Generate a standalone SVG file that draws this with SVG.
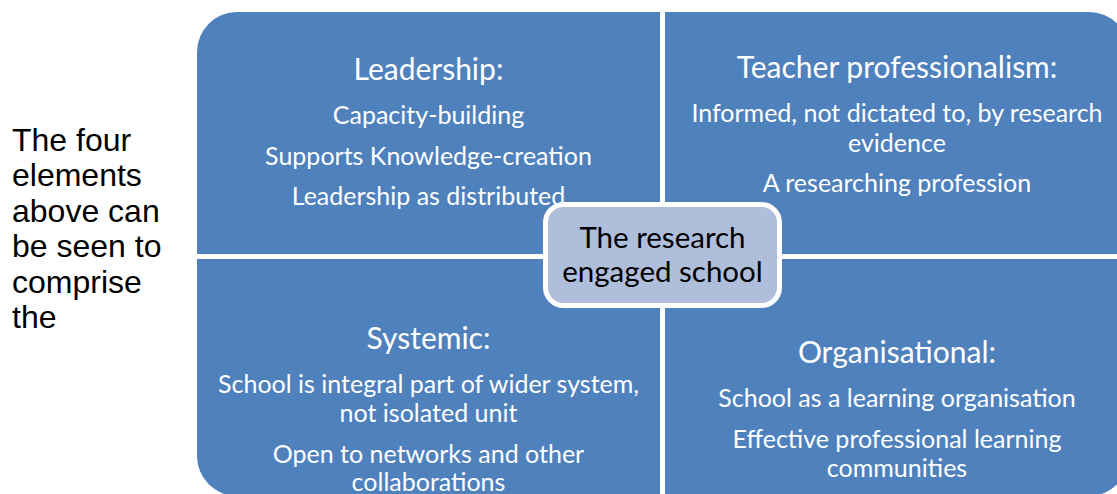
<svg xmlns="http://www.w3.org/2000/svg" width="1117" height="494" viewBox="0 0 1117 494">
<style>
.q{fill:#4F81BD}
.t{font-family:Lato,"Open Sans","Liberation Sans",sans-serif;fill:#FFFFFF;text-anchor:middle}
.h{font-size:30px}
.b{font-size:25px}
.c{font-family:Lato,"Open Sans","Liberation Sans",sans-serif;fill:#000000;text-anchor:middle;font-size:29.5px}
.side{font-family:"Liberation Sans",Arial,sans-serif;font-size:32px;fill:#000000}
</style>
<rect width="1117" height="494" fill="#FFFFFF"/>
<g id="intro">
<text class="side" x="12" y="151">The four</text>
<text class="side" x="12" y="186.4">elements</text>
<text class="side" x="12" y="221.8">above can</text>
<text class="side" x="12" y="257.2">be seen to</text>
<text class="side" x="12" y="292.6">comprise</text>
<text class="side" x="12" y="328">the</text>
</g>
<g id="leadership">
<path class="q" d="M197,254 V52 A40,40 0 0 1 237,12 H660 V254 Z"/>
<text class="t h" x="428.5" y="80">Leadership:</text>
<text class="t b" x="428.5" y="124">Capacity-building</text>
<text class="t b" x="428.5" y="165">Supports Knowledge-creation</text>
<text class="t b" x="428.5" y="205">Leadership as distributed</text>
</g>
<g id="teacher">
<path class="q" d="M665,12 H1089 A40,40 0 0 1 1129,52 V254 H665 Z"/>
<text class="t h" x="897" y="78">Teacher professionalism:</text>
<text class="t b" x="897" y="122">Informed, not dictated to, by research</text>
<text class="t b" x="897" y="152">evidence</text>
<text class="t b" x="897" y="192">A researching profession</text>
</g>
<g id="systemic">
<path class="q" d="M197,259 H660 V496 H237 A40,40 0 0 1 197,456 Z"/>
<text class="t h" x="428.5" y="349">Systemic:</text>
<text class="t b" x="428.5" y="393">School is integral part of wider system,</text>
<text class="t b" x="428.5" y="422">not isolated unit</text>
<text class="t b" x="428.5" y="463">Open to networks and other</text>
<text class="t b" x="428.5" y="491">collaborations</text>
</g>
<g id="organisational">
<path class="q" d="M665,259 H1129 V456 A40,40 0 0 1 1089,496 H665 Z"/>
<text class="t h" x="897" y="363">Organisational:</text>
<text class="t b" x="897" y="407">School as a learning organisation</text>
<text class="t b" x="897" y="448">Effective professional learning</text>
<text class="t b" x="897" y="477">communities</text>
</g>
<g id="connectors"></g>
<g id="center">
<rect x="545.5" y="204.5" width="234" height="101" rx="18" fill="#AFBEDB" stroke="#FFFFFF" stroke-width="5"/>
<text class="c" x="662.5" y="248">The research</text>
<text class="c" x="662.5" y="282">engaged school</text>
</g>
</svg>
